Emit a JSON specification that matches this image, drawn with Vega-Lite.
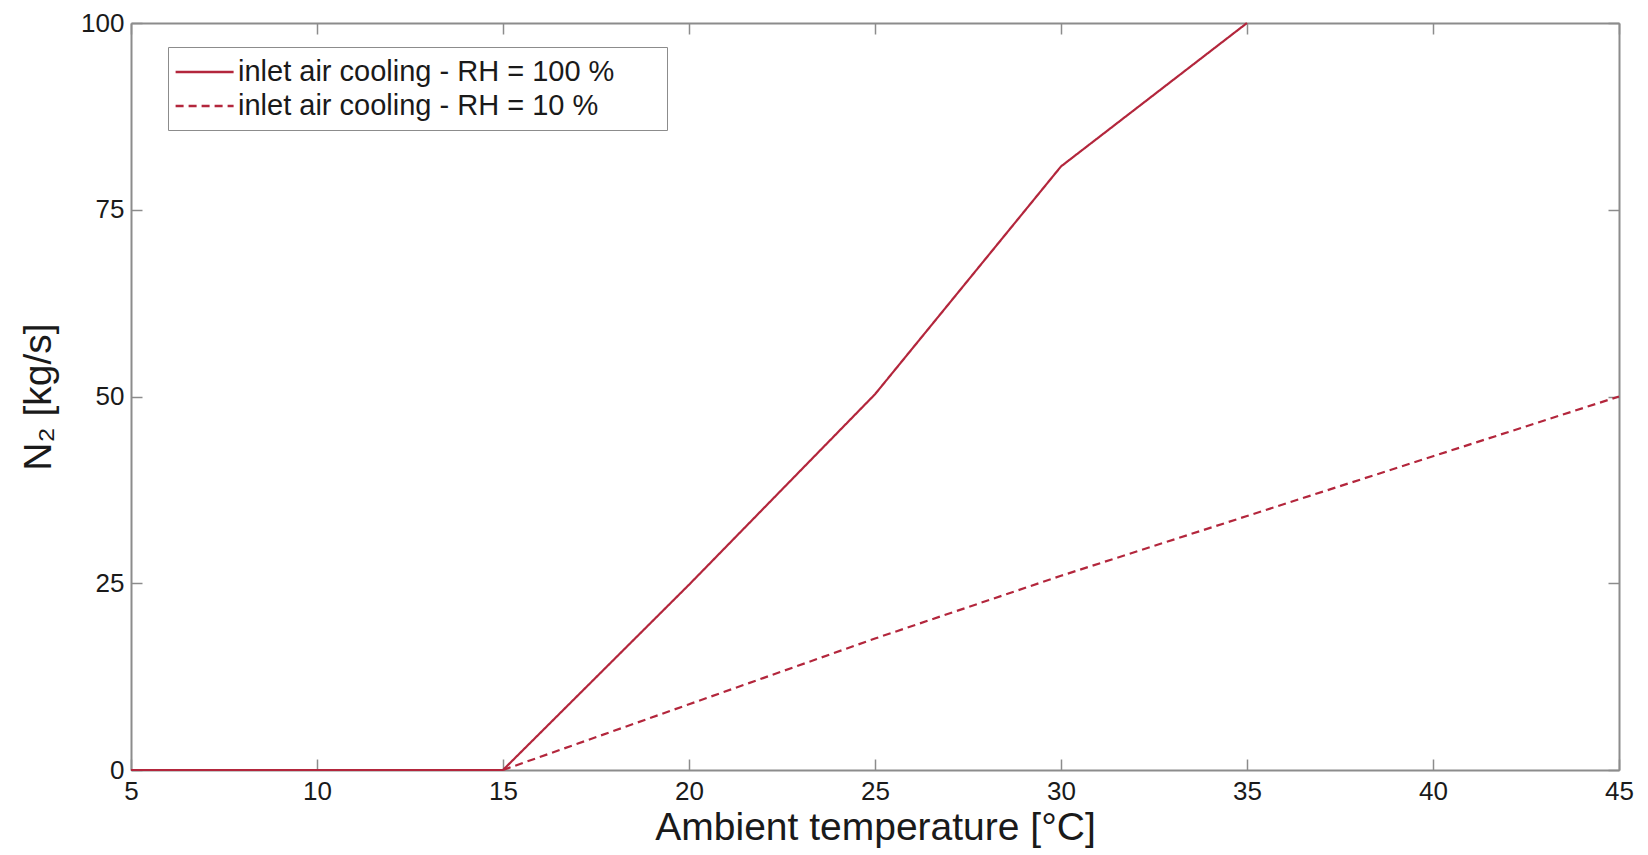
{
  "$schema": "https://vega.github.io/schema/vega-lite/v6.json",
  "width": 1488,
  "height": 747,
  "autosize": "none",
  "padding": {"left": 131, "top": 23, "right": 29, "bottom": 85},
  "background": "white",
  "config": {
    "font": "Liberation Sans",
    "view": {"stroke": null},
    "axis": {
      "domainColor": "#8c8c8c",
      "domainWidth": 2,
      "tickColor": "#8c8c8c",
      "tickWidth": 1.5,
      "tickSize": -11,
      "grid": false,
      "labelFlush": false,
      "labelFont": "Liberation Sans",
      "labelFontSize": 26,
      "labelColor": "#1a1a1a",
      "titleFont": "Liberation Sans",
      "titleFontWeight": "normal",
      "titleColor": "#1a1a1a"
    },
    "legend": {
      "labelFont": "Liberation Sans",
      "labelFontSize": 29,
      "labelColor": "#1a1a1a"
    }
  },
  "data": {
    "values": [
      {"series": "inlet air cooling - RH = 100 %", "t": 5, "n2": 0},
      {"series": "inlet air cooling - RH = 100 %", "t": 10, "n2": 0},
      {"series": "inlet air cooling - RH = 100 %", "t": 15, "n2": 0},
      {"series": "inlet air cooling - RH = 100 %", "t": 20, "n2": 24.8},
      {"series": "inlet air cooling - RH = 100 %", "t": 25, "n2": 50.3},
      {"series": "inlet air cooling - RH = 100 %", "t": 30, "n2": 80.8},
      {"series": "inlet air cooling - RH = 100 %", "t": 35, "n2": 100},
      {"series": "inlet air cooling - RH = 10 %", "t": 15, "n2": 0},
      {"series": "inlet air cooling - RH = 10 %", "t": 20, "n2": 8.8},
      {"series": "inlet air cooling - RH = 10 %", "t": 25, "n2": 17.6},
      {"series": "inlet air cooling - RH = 10 %", "t": 30, "n2": 26},
      {"series": "inlet air cooling - RH = 10 %", "t": 35, "n2": 34},
      {"series": "inlet air cooling - RH = 10 %", "t": 40, "n2": 42},
      {"series": "inlet air cooling - RH = 10 %", "t": 45, "n2": 50}
    ]
  },
  "layer": [
    {
      "mark": {"type": "line", "opacity": 0},
      "encoding": {
        "x": {"field": "t", "type": "quantitative", "scale": {"domain": [5, 45], "nice": false, "zero": false},
              "axis": {"orient": "top", "labels": false, "title": null, "values": [5, 10, 15, 20, 25, 30, 35, 40, 45]}},
        "y": {"field": "n2", "type": "quantitative", "scale": {"domain": [0, 100], "nice": false},
              "axis": {"orient": "right", "labels": false, "title": null, "values": [0, 25, 50, 75, 100]}},
        "detail": {"field": "series"}
      }
    },
    {
      "mark": {"type": "line", "strokeWidth": 2.2},
      "encoding": {
        "x": {"field": "t", "type": "quantitative",
              "axis": {"orient": "bottom", "title": "Ambient temperature [°C]", "titleFontSize": 39, "titlePadding": 4, "labelPadding": 19, "values": [5, 10, 15, 20, 25, 30, 35, 40, 45]}},
        "y": {"field": "n2", "type": "quantitative",
              "axis": {"orient": "left", "title": "N₂ [kg/s]", "titleFontSize": 39, "titlePadding": 22, "labelPadding": 18, "values": [0, 25, 50, 75, 100]}},
        "color": {
          "field": "series", "type": "nominal",
          "scale": {"domain": ["inlet air cooling - RH = 100 %", "inlet air cooling - RH = 10 %"], "range": ["#b3263c", "#b3263c"]},
          "legend": {
            "title": " ",
            "titleOrient": "right",
            "titlePadding": 44,
            "titleFontSize": 10,
            "orient": "none",
            "legendX": 37,
            "legendY": 24,
            "symbolType": "M-1.2,0H2.8",
            "symbolSize": 841,
            "symbolStrokeWidth": 2.4,
            "labelOffset": 29,
            "rowPadding": 3,
            "padding": 9,
            "strokeColor": "#8c8c8c",
            "fillColor": "white",
            "labelLimit": 700
          }
        },
        "strokeDash": {
          "field": "series", "type": "nominal",
          "scale": {"domain": ["inlet air cooling - RH = 100 %", "inlet air cooling - RH = 10 %"], "range": [[1, 0], [8, 5]]},
          "legend": null
        }
      }
    }
  ],
  "resolve": {"axis": {"x": "independent", "y": "independent"}}
}
